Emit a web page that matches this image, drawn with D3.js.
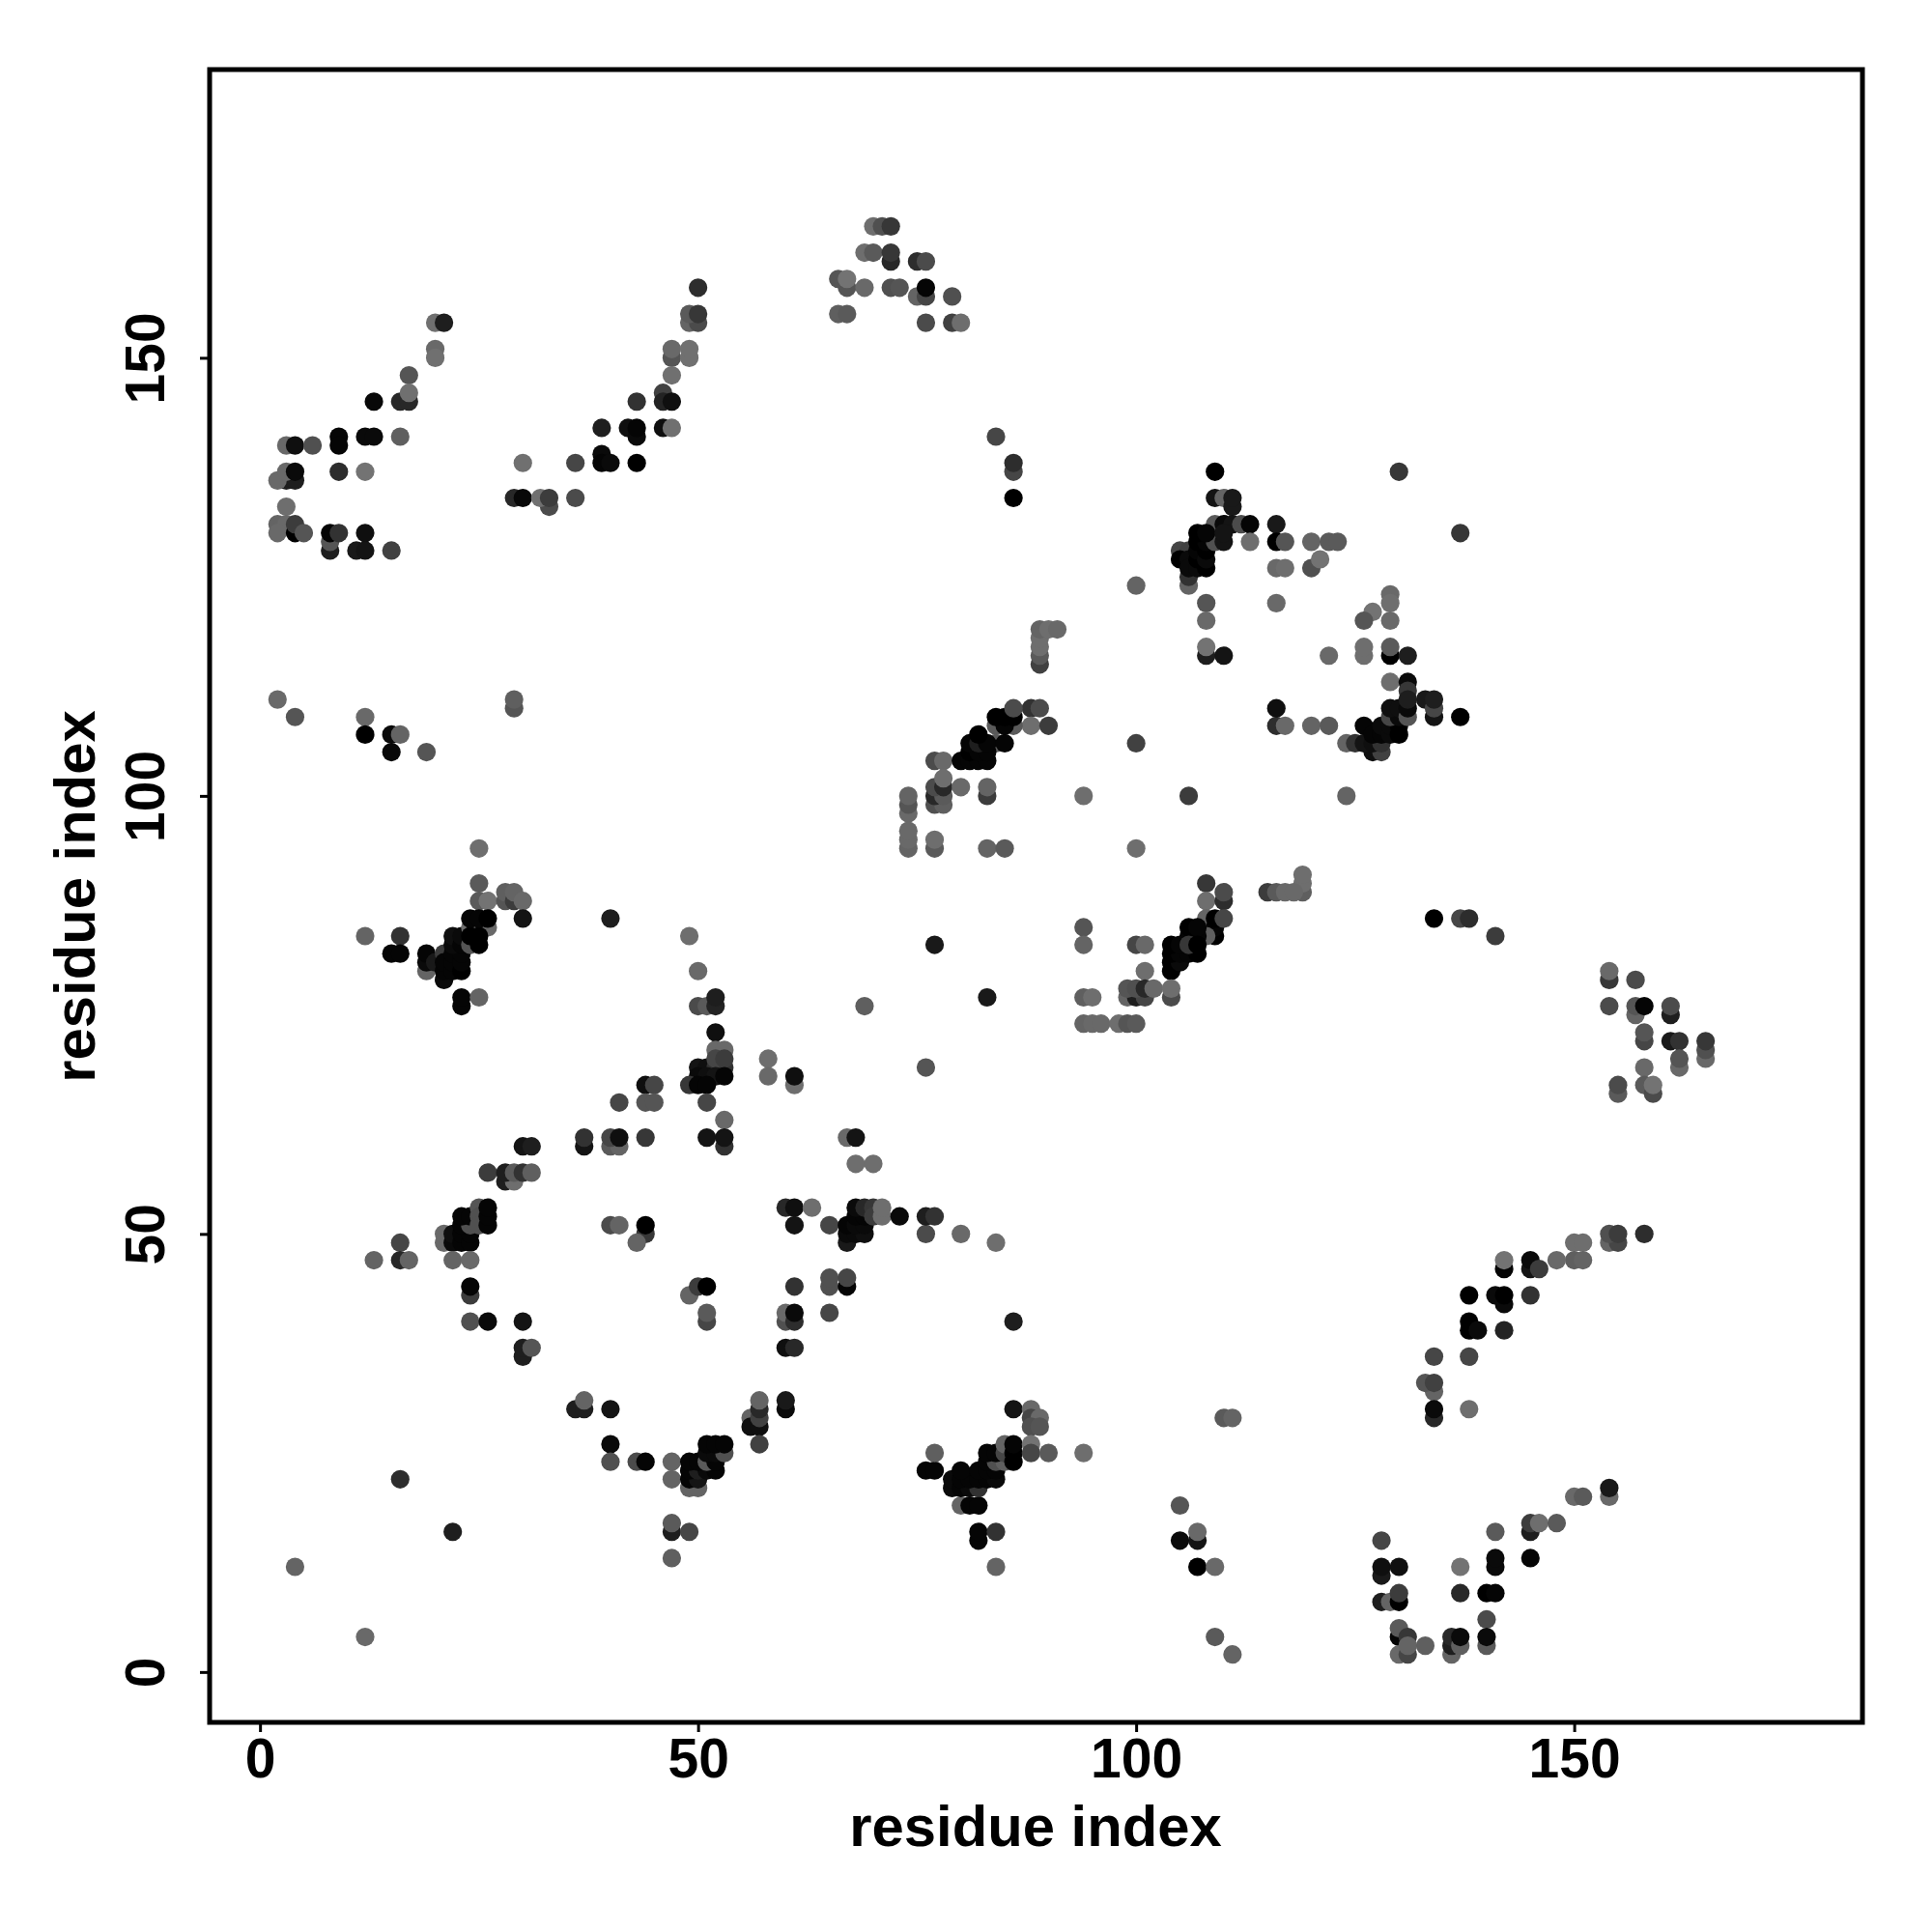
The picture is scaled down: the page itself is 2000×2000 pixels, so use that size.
<!DOCTYPE html>
<html><head><meta charset="utf-8">
<script src="https://cdn.jsdelivr.net/npm/d3@7"></script>
<style>html,body{margin:0;padding:0;background:#fff}</style></head>
<body><svg id="c" width="2000" height="2000"></svg>
<script>
const xTicks=[0,50,100,150], yTicks=[0,50,100,150];
const xTitle="residue index", yTitle="residue index";
// each contact: [residue i, residue j, gray level]
const upperLeft=[[20,154,112],[21,154,30],[20,151,105],[20,150,112],[17,148,85],[13,145,8],[16,145,40],[17,145,40],[17,146,112],[9,141,5],[9,140,5],[12,141,10],[13,141,10],[16,141,95],[3,140,105],[4,140,15],[6,140,80],[9,137,45],[12,137,115],[3,136,30],[4,136,30],[2,136,105],[3,137,105],[4,137,10],[3,133,110],[2,131,100],[3,131,105],[2,130,105],[4,130,0],[4,131,60],[5,130,85],[8,128,30],[8,129,85],[8,130,5],[9,130,50],[12,130,15],[11,128,25],[12,128,20],[15,128,65]];
const upperMid=[[50,158,45],[49,154,100],[50,154,75],[49,155,90],[50,155,55],[47,150,85],[49,150,112],[47,151,105],[49,151,112],[47,148,112],[46,146,65],[43,145,50],[46,145,35],[47,145,15],[39,142,30],[42,142,15],[43,141,10],[43,142,5],[46,142,15],[47,142,112],[30,138,112],[36,138,70],[39,139,10],[39,138,5],[40,138,10],[43,138,0],[29,134,40],[30,134,8],[33,133,75],[32,134,112],[33,134,60],[36,134,75]];
const topArc=[[70,165,110],[71,165,80],[72,165,55],[69,162,110],[70,162,90],[72,161,40],[72,162,55],[75,161,45],[76,161,75],[67,158,85],[66,159,85],[67,159,115],[69,158,105],[72,158,80],[73,158,85],[75,157,100],[76,157,70],[76,158,5],[79,157,80],[66,155,95],[67,155,90],[76,154,75],[79,154,65],[80,154,110],[84,141,70],[86,137,70],[86,138,45],[86,134,0]];
const clusterA=[[130,137,55],[109,137,0],[109,134,20],[110,134,100],[111,133,25],[111,134,25],[109,131,90],[110,131,10],[111,131,20],[112,131,75],[113,131,5],[116,131,25],[137,130,55],[113,129,110],[116,129,0],[117,129,85],[120,129,100],[122,129,90],[123,129,90],[105,128,70],[106,128,65],[106,124,100],[106,125,50],[105,127,0],[106,127,10],[106,126,10],[107,126,10],[107,127,0],[108,126,0],[107,128,5],[108,127,10],[108,128,0],[107,129,0],[108,129,5],[109,129,80],[110,129,20],[107,130,0],[108,130,5],[110,130,20],[116,126,105],[117,126,110],[120,126,80],[121,127,115],[100,124,100],[129,123,105],[108,122,85],[116,122,105],[129,122,110],[127,121,115],[126,120,85],[108,120,105],[129,120,105],[108,116,30],[108,117,115],[110,116,20],[126,116,110],[126,117,110],[129,116,0],[129,117,90],[131,116,30],[122,116,105]];
const clusterB=[[129,113,110],[131,113,10],[131,112,55],[133,111,25],[134,109,20],[134,110,70],[134,111,30],[137,109,0],[116,108,45],[116,110,15],[117,108,105],[120,108,100],[122,108,90],[124,106,100],[125,106,50],[127,105,15],[128,105,65],[126,106,20],[127,106,15],[128,106,50],[126,108,5],[127,107,5],[128,107,5],[128,108,10],[129,107,10],[129,108,10],[130,107,0],[130,108,0],[129,109,70],[130,109,10],[129,110,15],[130,110,15],[131,109,85],[131,110,10],[131,111,30],[106,100,60],[124,100,100],[100,106,65],[94,100,110],[100,94,110]];
const clusterC=[[89,115,65],[89,116,90],[89,117,110],[89,118,110],[89,119,100],[90,119,110],[91,119,105],[88,110,50],[89,110,75],[88,108,110],[90,108,60],[86,108,90],[84,108,90],[84,106,90],[77,104,75],[78,104,105],[80,104,5],[81,104,5],[82,104,5],[83,104,5],[81,105,0],[82,105,5],[83,105,5],[81,106,5],[82,106,30],[83,106,5],[82,107,0],[85,106,5],[85,108,5],[84,109,0],[85,109,0],[86,109,0],[86,110,75],[77,99,80],[78,99,95],[77,100,40],[78,100,90],[77,101,75],[78,101,40],[78,102,110],[80,101,105],[83,100,60],[83,101,100],[74,98,105],[74,99,85],[74,100,100],[74,94,100],[74,95,105],[74,96,105],[77,94,90],[77,95,110],[83,94,100],[85,94,90]];
const clusterD=[[119,89,95],[119,90,110],[119,91,110],[115,89,60],[116,89,90],[117,89,105],[118,89,105],[108,90,55],[108,88,110],[110,88,45],[110,89,75],[108,86,100],[109,84,0],[109,85,5],[109,86,0],[110,86,70],[94,85,85],[94,83,100],[100,83,70],[101,83,105],[108,84,95],[106,84,5],[107,84,5],[106,85,0],[107,85,5],[104,80,0],[104,81,0],[105,81,10],[104,82,0],[105,82,5],[106,82,5],[107,82,0],[104,83,0],[105,83,5],[106,83,55],[107,83,0],[77,83,25],[83,77,25],[101,80,110],[99,77,100],[100,77,30],[101,77,70],[99,78,85],[100,78,80],[101,78,40],[102,78,105],[104,77,75],[104,78,110],[94,77,95],[95,77,110],[94,74,100],[95,74,105],[96,74,105],[98,74,110],[99,74,85],[100,74,90],[134,86,0],[137,86,70],[138,86,45],[141,84,60]];
const leftMid=[[2,111,105],[4,109,85],[12,109,105],[12,107,0],[15,107,10],[16,107,100],[15,105,8],[19,105,85],[29,110,85],[29,111,95],[25,94,110],[25,90,90],[25,88,90],[26,88,115],[28,88,85],[28,89,95],[29,88,60],[29,89,100],[30,88,105],[30,86,20],[40,86,30],[12,84,100],[16,84,50],[15,82,5],[16,82,5],[19,80,100],[19,81,10],[19,82,5],[20,81,25],[21,82,60],[21,79,10],[21,80,5],[21,81,5],[22,80,5],[22,81,5],[22,82,5],[23,80,0],[23,81,5],[23,82,5],[22,83,10],[22,84,15],[23,83,5],[23,84,10],[24,83,85],[24,85,110],[26,85,105],[24,84,0],[25,84,0],[25,83,0],[24,86,5],[25,86,5],[26,86,0],[23,76,5],[23,77,5],[25,77,100],[49,84,110],[50,80,105],[50,76,75],[51,76,90],[52,76,35],[52,77,30],[52,73,15],[69,76,95],[76,69,85]];
const lowerMidA=[[52,71,105],[53,71,105],[58,70,110],[50,69,20],[51,69,15],[52,69,50],[53,69,50],[52,70,70],[53,70,60],[50,68,10],[51,68,15],[52,68,20],[53,68,5],[58,68,105],[61,67,110],[61,68,15],[44,67,15],[45,67,70],[49,67,55],[50,67,5],[51,67,5],[41,65,70],[44,65,85],[45,65,85],[51,65,70],[53,63,105],[37,60,20],[37,61,50],[40,60,90],[41,60,100],[40,61,70],[41,61,15],[44,61,55],[51,61,20],[53,60,50],[53,61,20],[67,61,105],[68,61,20],[68,58,110],[70,58,110],[30,60,20],[31,60,30],[26,57,60],[28,56,30],[29,56,110],[28,57,30],[29,57,90],[30,57,50],[31,57,95]];
const lowerMidB=[[21,49,105],[21,50,105],[22,49,10],[22,50,15],[23,49,5],[23,50,5],[24,49,5],[24,50,5],[23,51,5],[24,51,80],[23,52,5],[24,52,5],[25,53,85],[25,52,80],[25,51,80],[26,51,5],[26,52,5],[26,53,5],[16,49,70],[13,47,100],[16,47,40],[17,47,100],[22,47,100],[24,47,105],[24,43,60],[24,44,5],[24,40,80],[26,40,10],[30,40,20],[30,36,30],[30,37,30],[31,37,85],[40,51,75],[41,51,100],[44,50,55],[44,51,0],[43,49,100],[49,43,100],[50,44,60],[51,44,0],[51,40,70],[51,41,90],[60,53,40],[61,53,15],[63,53,110],[61,51,20],[65,51,70],[61,44,50],[65,44,80],[65,45,80],[67,44,5],[67,45,70],[60,40,80],[60,41,105],[61,40,45],[61,41,10],[65,41,70],[60,37,15],[61,37,40],[86,40,30]];
const lowerMidC=[[67,49,25],[67,50,10],[68,50,10],[69,50,15],[67,51,5],[68,51,10],[69,51,10],[68,52,5],[69,52,5],[68,53,10],[69,53,40],[70,53,55],[70,52,60],[71,52,110],[71,53,110],[73,52,10],[76,50,75],[76,52,30],[77,52,50],[80,50,105],[84,49,110]];
const bottomA=[[36,30,30],[37,30,30],[37,31,100],[40,30,20],[40,26,10],[40,24,80],[43,24,75],[44,24,5],[47,24,100],[47,22,100],[49,21,100],[50,21,100],[49,22,5],[50,22,20],[49,23,5],[50,23,30],[51,23,10],[52,23,5],[49,24,5],[50,24,5],[51,24,90],[52,24,5],[51,25,10],[52,25,10],[53,25,80],[51,26,5],[52,26,5],[53,26,5],[47,13,95],[47,16,30],[47,17,90],[49,16,70],[56,29,100],[56,28,15],[57,28,15],[57,29,65],[57,30,40],[57,31,100],[57,26,65],[60,30,10],[60,31,25],[16,22,45],[22,16,30],[4,12,100],[12,4,105]];
const bottomB=[[76,23,5],[77,23,5],[77,25,95],[79,21,10],[79,22,10],[80,19,100],[81,19,5],[82,19,5],[80,21,5],[81,21,10],[82,21,50],[80,22,5],[81,22,5],[82,22,5],[83,22,5],[84,22,10],[80,23,5],[82,23,5],[83,23,5],[84,23,5],[83,24,5],[84,24,80],[85,24,95],[83,25,5],[84,25,5],[85,25,70],[85,26,100],[86,24,0],[86,25,0],[86,26,5],[86,30,20],[88,30,105],[88,29,70],[89,29,105],[88,28,80],[89,28,85],[88,26,115],[88,25,70],[90,25,90],[94,25,110],[82,15,5],[82,16,5],[84,16,50],[84,12,100],[105,19,85],[107,15,20],[107,16,105],[105,15,10],[107,12,0],[109,12,105],[109,4,90],[111,2,100],[110,29,90],[111,29,100]];
const rightSide=[[154,79,55],[154,80,105],[157,79,75],[154,76,75],[157,75,100],[157,76,85],[158,76,5],[161,75,30],[161,76,75],[158,72,70],[158,73,85],[161,72,25],[162,72,50],[165,70,105],[165,71,80],[165,72,55],[162,69,105],[162,70,85],[158,69,105],[155,66,90],[155,67,75],[158,67,90],[159,66,75],[159,67,115]];
const rightLowerA=[[154,49,100],[155,49,70],[154,50,80],[155,50,60],[158,50,45],[150,49,110],[151,49,110],[150,47,95],[151,47,100],[148,47,105],[142,46,5],[142,47,115],[145,46,20],[145,47,10],[146,46,60],[138,43,0],[141,43,10],[142,42,10],[142,43,0],[145,43,50],[138,40,0],[138,39,0],[139,39,10],[142,39,35],[134,36,70],[138,36,70],[134,32,100],[133,33,85],[134,33,65],[134,29,40],[134,30,10],[138,30,110]];
const rightLowerB=[[154,20,105],[154,21,25],[150,20,105],[151,20,90],[145,16,30],[145,17,60],[146,17,110],[148,17,90],[141,16,90],[128,15,70],[128,11,25],[128,12,15],[130,12,15],[137,12,115],[141,12,10],[141,13,10],[145,13,5],[137,9,40],[140,9,0],[141,9,5],[128,8,30],[129,8,100],[130,8,0],[130,9,60],[140,6,75],[130,4,5],[130,5,90],[131,4,55],[130,2,105],[131,2,70],[131,3,100],[133,3,95],[136,2,100],[136,3,30],[136,4,40],[137,3,95],[137,4,10],[140,3,90],[140,4,10]];

const contacts=[].concat(upperLeft,upperMid,topArc,clusterA,clusterB,clusterC,clusterD,leftMid,lowerMidA,lowerMidB,lowerMidC,bottomA,bottomB,rightSide,rightLowerA,rightLowerB);

const L=217,R=1928,T=72,B=1783;
const x=d3.scaleLinear().domain([-5.75,182.9]).range([L,R]);
const y=d3.scaleLinear().domain([-5.75,182.9]).range([B,T]);
const svg=d3.select("#c");
const font='"Liberation Sans",Arial,sans-serif';
svg.append("g").selectAll("circle").data(contacts).join("circle")
  .attr("cx",d=>x(d[0])).attr("cy",d=>y(d[1])).attr("r",9.6)
  .attr("fill",d=>d3.rgb(d[2],d[2],d[2]));
svg.append("rect").attr("x",L).attr("y",T).attr("width",R-L).attr("height",B-T)
  .attr("fill","none").attr("stroke","#000").attr("stroke-width",5);
const gx=svg.append("g").attr("transform",`translate(0,${B})`)
  .call(d3.axisBottom(x).tickValues(xTicks).tickSize(10).tickPadding(10));
const gy=svg.append("g").attr("transform",`translate(${L},0)`)
  .call(d3.axisLeft(y).tickValues(yTicks).tickSize(10).tickPadding(10));
[gx,gy].forEach(g=>{g.select(".domain").remove();
  g.selectAll("line").attr("stroke","#000").attr("stroke-width",3);
  g.selectAll("text").attr("fill","#000").attr("font-family",font).attr("font-weight","bold").attr("font-size",57);});
gx.selectAll("text").attr("dy",null).attr("y",null).attr("transform",null).attr("y",57);
gy.selectAll("text").attr("x",null).attr("dy",null).attr("text-anchor","middle")
  .attr("transform","translate(-47,0) rotate(-90)");
svg.append("text").attr("x",1072).attr("y",1911).attr("text-anchor","middle")
  .attr("font-family",font).attr("font-weight","bold").attr("font-size",59.8).text(xTitle);
svg.append("text").attr("transform","translate(98,928) rotate(-90)").attr("text-anchor","middle")
  .attr("font-family",font).attr("font-weight","bold").attr("font-size",59.8).text(yTitle);
</script></body></html>
